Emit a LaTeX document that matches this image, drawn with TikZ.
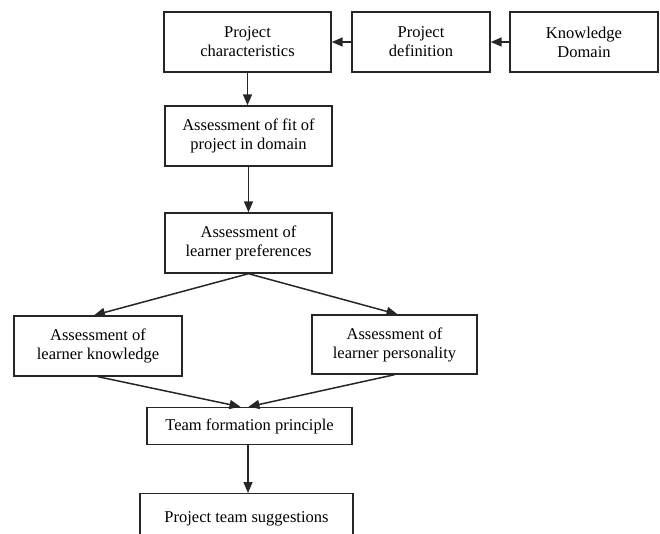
\documentclass[tikz,border=0pt]{standalone}
\usepackage{fontspec}
\setmainfont{Liberation Serif}
\usetikzlibrary{
    positioning,
    arrows.meta
}
\tikzset{
    >={Triangle[length=11pt,width=9pt]},
    % For the boxes
    stageBox/.style={
        draw=black!85,
        line width=1.4pt,
        fill=white,
        align=center,
        inner sep=2pt,
        minimum height=60pt,
        font=\fontsize{16.5}{19}\selectfont
    },
    flatBox/.style={
        stageBox,
        minimum height=37pt
    },
    flow/.style={
        ->,
        draw=black!85,
        line width=1.5pt
    }
}

\begin{document}
\begin{tikzpicture}[x=1pt,y=-1pt]

    \clip (0,0) rectangle (660,534);

    \node[stageBox, minimum width=167pt] (chars) at (247.5,42) {Project\\characteristics};
    \node[stageBox, minimum width=138pt] (definition) at (421,42) {Project\\definition};
    \node[stageBox, minimum width=148pt] (domain) at (584,42) {Knowledge\\Domain};

    \node[stageBox, minimum width=167pt] (fit) at (248.5,136) {Assessment of fit of\\project in domain};
    \node[stageBox, minimum width=167pt] (preferences) at (248.5,243) {Assessment of\\learner preferences};

    \node[stageBox, minimum width=168pt] (knowledge) at (98,346) {Assessment of\\learner knowledge};
    \node[stageBox, minimum width=165pt, minimum height=59pt] (personality) at (394.5,344.5) {Assessment of\\learner personality};

    \node[flatBox, minimum width=205pt] (principle) at (249.5,426) {Team formation principle};
    \node[stageBox, minimum width=213pt, minimum height=50pt, anchor=north] (suggestions) at (246.5,493) {Project team suggestions};

    \draw[flow] (domain.west) -- (definition.east);
    \draw[flow] (definition.west) -- (chars.east);
    \draw[flow] (chars.south) -- (chars.south |- fit.north);
    \draw[flow] (fit.south) -- (preferences.north);

    \draw[flow] (preferences.south) -- ([xshift=-4pt]knowledge.north);
    \draw[flow] (preferences.south) -- ([xshift=3pt]personality.north);

    \draw[flow] (knowledge.south) -- ([xshift=-9pt]principle.north);
    \draw[flow] (personality.south) -- ([xshift=-1pt]principle.north);

    \draw[flow] ([xshift=-1.5pt]principle.south) -- ([xshift=-1.5pt]principle.south |- suggestions.north);

\end{tikzpicture}
\end{document}
